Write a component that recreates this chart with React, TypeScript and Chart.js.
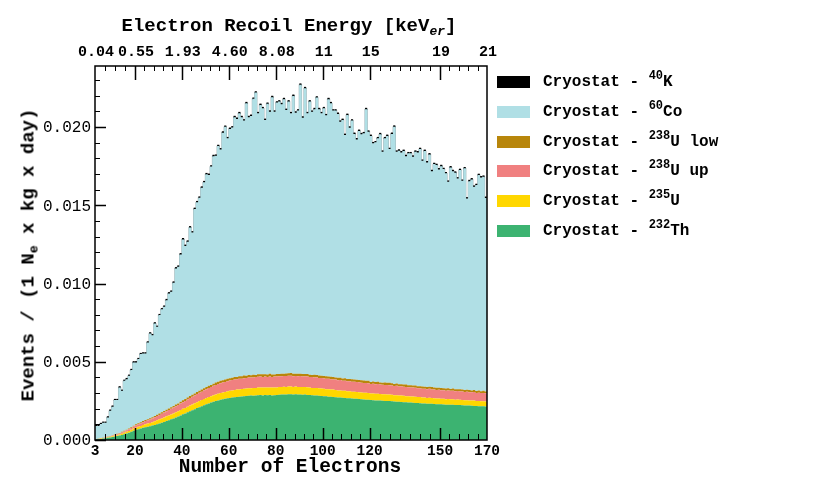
import React, { useEffect, useRef } from 'react';
import { Chart, registerables } from 'chart.js';

Chart.register(...registerables);

// one bin per electron, from 3 to 170
const BIN_START = 3;
const BIN_END = 170;

const th232 = [
  0.00004, 0.00005, 0.00007, 0.00009, 0.00011, 0.00014, 0.00016, 0.00019, 0.00022, 0.00025,
  0.00028, 0.00032, 0.00037, 0.00042, 0.00047, 0.00053, 0.00059, 0.00064, 0.00069, 0.00073,
  0.00078, 0.00082, 0.00085, 0.00088, 0.00092, 0.00096, 0.00100, 0.00105, 0.00110, 0.00115,
  0.00121, 0.00126, 0.00132, 0.00138, 0.00144, 0.00150, 0.00157, 0.00164, 0.00170, 0.00177,
  0.00184, 0.00190, 0.00197, 0.00204, 0.00210, 0.00216, 0.00222, 0.00228, 0.00234, 0.00239,
  0.00244, 0.00249, 0.00253, 0.00257, 0.00260, 0.00263, 0.00266, 0.00269, 0.00271, 0.00273,
  0.00275, 0.00277, 0.00278, 0.00280, 0.00281, 0.00282, 0.00284, 0.00283, 0.00285, 0.00286,
  0.00287, 0.00285, 0.00288, 0.00286, 0.00287, 0.00285, 0.00286, 0.00288, 0.00289, 0.00290,
  0.00291, 0.00290, 0.00292, 0.00293, 0.00291, 0.00292, 0.00290, 0.00291, 0.00289, 0.00290,
  0.00288, 0.00287, 0.00286, 0.00284, 0.00285, 0.00283, 0.00281, 0.00280, 0.00279, 0.00277,
  0.00276, 0.00275, 0.00273, 0.00272, 0.00271, 0.00270, 0.00268, 0.00267, 0.00266, 0.00265,
  0.00264, 0.00263, 0.00262, 0.00260, 0.00259, 0.00258, 0.00257, 0.00255, 0.00254, 0.00253,
  0.00253, 0.00252, 0.00251, 0.00250, 0.00250, 0.00249, 0.00248, 0.00246, 0.00245, 0.00244,
  0.00243, 0.00242, 0.00241, 0.00240, 0.00239, 0.00238, 0.00237, 0.00236, 0.00235, 0.00234,
  0.00233, 0.00232, 0.00232, 0.00231, 0.00230, 0.00229, 0.00228, 0.00228, 0.00227, 0.00226,
  0.00226, 0.00225, 0.00225, 0.00224, 0.00224, 0.00223, 0.00222, 0.00221, 0.00220, 0.00220,
  0.00219, 0.00218, 0.00217, 0.00216, 0.00216, 0.00215, 0.00214,
];

const u235 = [
  0.00001, 0.00001, 0.00002, 0.00002, 0.00003, 0.00003, 0.00004, 0.00005, 0.00005, 0.00006,
  0.00007, 0.00008, 0.00009, 0.00010, 0.00011, 0.00012, 0.00014, 0.00015, 0.00016, 0.00017,
  0.00018, 0.00019, 0.00020, 0.00021, 0.00022, 0.00024, 0.00026, 0.00027, 0.00028, 0.00029,
  0.00030, 0.00031, 0.00031, 0.00032, 0.00033, 0.00033, 0.00034, 0.00035, 0.00035, 0.00036,
  0.00037, 0.00037, 0.00038, 0.00038, 0.00039, 0.00039, 0.00040, 0.00040, 0.00041, 0.00041,
  0.00042, 0.00042, 0.00043, 0.00043, 0.00044, 0.00044, 0.00045, 0.00045, 0.00046, 0.00046,
  0.00047, 0.00046, 0.00048, 0.00047, 0.00048, 0.00049, 0.00047, 0.00049, 0.00048, 0.00050,
  0.00049, 0.00050, 0.00048, 0.00050, 0.00049, 0.00050, 0.00049, 0.00048, 0.00050, 0.00049,
  0.00050, 0.00049, 0.00050, 0.00049, 0.00048, 0.00050, 0.00049, 0.00048, 0.00049, 0.00048,
  0.00049, 0.00048, 0.00047, 0.00049, 0.00048, 0.00047, 0.00048, 0.00047, 0.00046, 0.00047,
  0.00046, 0.00047, 0.00046, 0.00045, 0.00046, 0.00045, 0.00046, 0.00044, 0.00045, 0.00044,
  0.00045, 0.00044, 0.00043, 0.00044, 0.00043, 0.00044, 0.00043, 0.00042, 0.00043, 0.00042,
  0.00043, 0.00042, 0.00041, 0.00042, 0.00041, 0.00042, 0.00041, 0.00040, 0.00041, 0.00040,
  0.00041, 0.00040, 0.00039, 0.00040, 0.00039, 0.00040, 0.00039, 0.00038, 0.00039, 0.00038,
  0.00038, 0.00037, 0.00038, 0.00037, 0.00037, 0.00036, 0.00037, 0.00036, 0.00036, 0.00035,
  0.00036, 0.00035, 0.00035, 0.00034, 0.00035, 0.00034, 0.00034, 0.00033, 0.00034, 0.00033,
  0.00033, 0.00034, 0.00032, 0.00033, 0.00032, 0.00033, 0.00032,
];

const u238Up = [
  0.00001, 0.00001, 0.00002, 0.00002, 0.00003, 0.00003, 0.00004, 0.00004, 0.00005, 0.00006,
  0.00007, 0.00008, 0.00009, 0.00010, 0.00011, 0.00012, 0.00013, 0.00015, 0.00016, 0.00017,
  0.00018, 0.00020, 0.00021, 0.00022, 0.00024, 0.00025, 0.00027, 0.00028, 0.00030, 0.00031,
  0.00033, 0.00034, 0.00036, 0.00037, 0.00039, 0.00040, 0.00042, 0.00043, 0.00045, 0.00046,
  0.00048, 0.00049, 0.00050, 0.00052, 0.00053, 0.00054, 0.00056, 0.00057, 0.00058, 0.00059,
  0.00060, 0.00061, 0.00062, 0.00063, 0.00064, 0.00064, 0.00065, 0.00066, 0.00066, 0.00067,
  0.00067, 0.00068, 0.00066, 0.00068, 0.00067, 0.00069, 0.00068, 0.00067, 0.00069, 0.00068,
  0.00069, 0.00068, 0.00070, 0.00067, 0.00069, 0.00068, 0.00070, 0.00069, 0.00068, 0.00069,
  0.00068, 0.00070, 0.00069, 0.00068, 0.00069, 0.00067, 0.00068, 0.00070, 0.00068, 0.00069,
  0.00068, 0.00067, 0.00069, 0.00067, 0.00068, 0.00066, 0.00068, 0.00067, 0.00066, 0.00067,
  0.00066, 0.00065, 0.00067, 0.00065, 0.00066, 0.00064, 0.00065, 0.00064, 0.00065, 0.00063,
  0.00064, 0.00063, 0.00064, 0.00062, 0.00063, 0.00062, 0.00063, 0.00061, 0.00062, 0.00061,
  0.00062, 0.00060, 0.00061, 0.00060, 0.00061, 0.00059, 0.00060, 0.00059, 0.00060, 0.00058,
  0.00059, 0.00058, 0.00059, 0.00057, 0.00058, 0.00057, 0.00058, 0.00056, 0.00057, 0.00056,
  0.00057, 0.00056, 0.00057, 0.00055, 0.00056, 0.00055, 0.00056, 0.00054, 0.00055, 0.00054,
  0.00055, 0.00054, 0.00055, 0.00053, 0.00054, 0.00053, 0.00054, 0.00053, 0.00054, 0.00052,
  0.00053, 0.00054, 0.00052, 0.00053, 0.00052, 0.00053, 0.00052,
];

const u238Low = [
  0.00001, 0.00001, 0.00001, 0.00001, 0.00002, 0.00002, 0.00002, 0.00002, 0.00003, 0.00003,
  0.00003, 0.00004, 0.00004, 0.00004, 0.00005, 0.00005, 0.00005, 0.00006, 0.00006, 0.00006,
  0.00007, 0.00007, 0.00007, 0.00008, 0.00008, 0.00008, 0.00009, 0.00009, 0.00009, 0.00010,
  0.00010, 0.00010, 0.00011, 0.00011, 0.00011, 0.00011, 0.00012, 0.00012, 0.00012, 0.00012,
  0.00012, 0.00013, 0.00012, 0.00013, 0.00013, 0.00014, 0.00013, 0.00014, 0.00014, 0.00013,
  0.00014, 0.00015, 0.00014, 0.00015, 0.00014, 0.00015, 0.00016, 0.00014, 0.00015, 0.00016,
  0.00014, 0.00016, 0.00015, 0.00017, 0.00014, 0.00016, 0.00015, 0.00018, 0.00014, 0.00016,
  0.00015, 0.00017, 0.00014, 0.00016, 0.00018, 0.00015, 0.00014, 0.00017, 0.00015, 0.00016,
  0.00014, 0.00016, 0.00015, 0.00018, 0.00015, 0.00014, 0.00017, 0.00015, 0.00016, 0.00014,
  0.00016, 0.00015, 0.00014, 0.00017, 0.00015, 0.00016, 0.00014, 0.00015, 0.00017, 0.00014,
  0.00016, 0.00015, 0.00014, 0.00016, 0.00015, 0.00014, 0.00016, 0.00015, 0.00014, 0.00016,
  0.00014, 0.00015, 0.00014, 0.00016, 0.00015, 0.00014, 0.00015, 0.00013, 0.00015, 0.00014,
  0.00015, 0.00014, 0.00013, 0.00015, 0.00014, 0.00016, 0.00014, 0.00013, 0.00015, 0.00014,
  0.00013, 0.00014, 0.00015, 0.00013, 0.00014, 0.00013, 0.00015, 0.00014, 0.00013, 0.00014,
  0.00013, 0.00014, 0.00013, 0.00015, 0.00013, 0.00014, 0.00013, 0.00014, 0.00012, 0.00014,
  0.00013, 0.00012, 0.00014, 0.00013, 0.00012, 0.00014, 0.00013, 0.00012, 0.00013, 0.00014,
  0.00012, 0.00013, 0.00012, 0.00014, 0.00012, 0.00013, 0.00012,
];

const co60 = [
  0.00082, 0.00081, 0.00090, 0.00096, 0.00091, 0.00122, 0.00161, 0.00183, 0.00220, 0.00215,
  0.00291, 0.00262, 0.00319, 0.00323, 0.00336, 0.00365, 0.00405, 0.00396, 0.00410, 0.00436,
  0.00432, 0.00425, 0.00490, 0.00542, 0.00524, 0.00592, 0.00561, 0.00629, 0.00658, 0.00667,
  0.00699, 0.00735, 0.00737, 0.00787, 0.00869, 0.00873, 0.00941, 0.01028, 0.00978, 0.00996,
  0.01077, 0.01037, 0.01179, 0.01212, 0.01233, 0.01289, 0.01316, 0.01359, 0.01347, 0.01395,
  0.01454, 0.01449, 0.01506, 0.01479, 0.01582, 0.01615, 0.01536, 0.01594, 0.01599, 0.01661,
  0.01649, 0.01681, 0.01656, 0.01629, 0.01742, 0.01647, 0.01657, 0.01763, 0.01804, 0.01668,
  0.01721, 0.01700, 0.01625, 0.01729, 0.01675, 0.01773, 0.01679, 0.01734, 0.01741, 0.01722,
  0.01755, 0.01684, 0.01737, 0.01660, 0.01776, 0.01669, 0.01681, 0.01846, 0.01638, 0.01827,
  0.01667, 0.01746, 0.01681, 0.01697, 0.01772, 0.01702, 0.01677, 0.01711, 0.01667, 0.01773,
  0.01748, 0.01703, 0.01705, 0.01686, 0.01636, 0.01652, 0.01554, 0.01687, 0.01606, 0.01653,
  0.01569, 0.01536, 0.01592, 0.01572, 0.01580, 0.01736, 0.01592, 0.01572, 0.01522, 0.01532,
  0.01555, 0.01586, 0.01476, 0.01561, 0.01577, 0.01493, 0.01593, 0.01644, 0.01481, 0.01493,
  0.01482, 0.01493, 0.01460, 0.01482, 0.01482, 0.01462, 0.01493, 0.01494, 0.01515, 0.01442,
  0.01506, 0.01435, 0.01485, 0.01380, 0.01427, 0.01423, 0.01395, 0.01418, 0.01401, 0.01375,
  0.01320, 0.01416, 0.01389, 0.01384, 0.01346, 0.01401, 0.01333, 0.01417, 0.01222, 0.01335,
  0.01348, 0.01299, 0.01316, 0.01377, 0.01366, 0.01368, 0.01237,
];

const k40 = [
  0.00001, 0.00001, 0.00001, 0.00001, 0.00001, 0.00001, 0.00001, 0.00001, 0.00001, 0.00001,
  0.00001, 0.00001, 0.00001, 0.00001, 0.00001, 0.00001, 0.00001, 0.00001, 0.00001, 0.00001,
  0.00001, 0.00001, 0.00001, 0.00001, 0.00001, 0.00001, 0.00001, 0.00001, 0.00001, 0.00001,
  0.00002, 0.00002, 0.00002, 0.00002, 0.00002, 0.00002, 0.00002, 0.00002, 0.00002, 0.00002,
  0.00002, 0.00002, 0.00002, 0.00002, 0.00002, 0.00002, 0.00002, 0.00002, 0.00002, 0.00002,
  0.00002, 0.00002, 0.00002, 0.00002, 0.00002, 0.00002, 0.00002, 0.00002, 0.00002, 0.00002,
  0.00002, 0.00002, 0.00002, 0.00002, 0.00002, 0.00002, 0.00002, 0.00002, 0.00002, 0.00002,
  0.00002, 0.00002, 0.00002, 0.00002, 0.00002, 0.00002, 0.00002, 0.00002, 0.00002, 0.00002,
  0.00002, 0.00002, 0.00002, 0.00002, 0.00002, 0.00002, 0.00002, 0.00002, 0.00002, 0.00002,
  0.00002, 0.00002, 0.00002, 0.00002, 0.00002, 0.00002, 0.00002, 0.00002, 0.00002, 0.00002,
  0.00002, 0.00002, 0.00002, 0.00002, 0.00002, 0.00002, 0.00002, 0.00002, 0.00002, 0.00002,
  0.00002, 0.00002, 0.00002, 0.00002, 0.00002, 0.00002, 0.00002, 0.00002, 0.00002, 0.00002,
  0.00002, 0.00002, 0.00002, 0.00002, 0.00002, 0.00002, 0.00002, 0.00002, 0.00002, 0.00002,
  0.00002, 0.00002, 0.00002, 0.00002, 0.00002, 0.00002, 0.00002, 0.00002, 0.00002, 0.00002,
  0.00002, 0.00002, 0.00002, 0.00002, 0.00002, 0.00002, 0.00002, 0.00002, 0.00002, 0.00002,
  0.00002, 0.00002, 0.00002, 0.00002, 0.00002, 0.00002, 0.00002, 0.00002, 0.00002, 0.00002,
  0.00002, 0.00002, 0.00002, 0.00002, 0.00002, 0.00002, 0.00002,
];

// axis labels
const electronTicks = [3, 20, 40, 60, 80, 100, 120, 150, 170];
const energyLabels = ['0.04', '0.55', '1.93', '4.60', '8.08', '11', '15', '19', '21'];
const yTicks = [0, 0.005, 0.01, 0.015, 0.02];
const Y_MAX = 0.0239;

const FONT = '"Liberation Mono", "DejaVu Sans Mono", monospace';

// stacking order, bottom first
const layers = [
  { label: 'Th232', values: th232, color: '#3cb371' },
  { label: 'U235', values: u235, color: '#ffd700' },
  { label: 'U238 up', values: u238Up, color: '#f08080' },
  { label: 'U238 low', values: u238Low, color: '#b8860b' },
  { label: 'Co60', values: co60, color: '#b0dfe5' },
  { label: 'K40', values: k40, color: '#000000' },
];

const legendEntries = [
  { iso: '40', el: 'K', tail: '', color: '#000000' },
  { iso: '60', el: 'Co', tail: '', color: '#b0dfe5' },
  { iso: '238', el: 'U', tail: ' low', color: '#b8860b' },
  { iso: '238', el: 'U', tail: ' up', color: '#f08080' },
  { iso: '235', el: 'U', tail: '', color: '#ffd700' },
  { iso: '232', el: 'Th', tail: '', color: '#3cb371' },
];

// bin centres, padded with the two outer edges so 'middle' steps cover the full range
const toSteps = (values: number[]) => [
  { x: BIN_START, y: values[0] },
  ...values.map((v, i) => ({ x: BIN_START + i + 0.5, y: v })),
  { x: BIN_END, y: values[values.length - 1] },
];

const minorBetween = (a: number, b: number, step: number) => {
  const n = Math.max(1, Math.round((b - a) / step));
  const out: number[] = [];
  for (let j = 1; j < n; j++) out.push(a + ((b - a) * j) / n);
  return out;
};

const rootAxes = {
  id: 'rootAxes',
  afterDraw(chart: any) {
    const { ctx, chartArea: a, scales } = chart;
    const x = scales.x;
    const y = scales.y;
    ctx.save();
    ctx.strokeStyle = '#000';
    ctx.fillStyle = '#000';

    // minor ticks
    ctx.lineWidth = 1;
    ctx.beginPath();
    for (let i = 0; i < electronTicks.length - 1; i++) {
      minorBetween(electronTicks[i], electronTicks[i + 1], 4.2).forEach((v) => {
        const px = Math.round(x.getPixelForValue(v)) + 0.5;
        ctx.moveTo(px, a.bottom);
        ctx.lineTo(px, a.bottom - 6);
        ctx.moveTo(px, a.top);
        ctx.lineTo(px, a.top + 5);
      });
    }
    for (let v = 0.001; v < Y_MAX; v += 0.001) {
      const py = Math.round(y.getPixelForValue(v)) + 0.5;
      ctx.moveTo(a.left, py);
      ctx.lineTo(a.left + 5, py);
    }
    ctx.stroke();

    // major ticks
    ctx.lineWidth = 1.5;
    ctx.beginPath();
    electronTicks.slice(1, -1).forEach((v) => {
      const px = Math.round(x.getPixelForValue(v)) + 0.5;
      ctx.moveTo(px, a.bottom);
      ctx.lineTo(px, a.bottom - 12);
      ctx.moveTo(px, a.top);
      ctx.lineTo(px, a.top + 14);
    });
    yTicks.forEach((v) => {
      const py = Math.round(y.getPixelForValue(v)) + 0.5;
      ctx.moveTo(a.left, py);
      ctx.lineTo(a.left + 11, py);
    });
    ctx.stroke();

    // frame
    ctx.lineWidth = 1.5;
    ctx.strokeRect(a.left, a.top, a.right - a.left, a.bottom - a.top);

    // tick labels
    ctx.font = `16px ${FONT}`;
    ctx.textAlign = 'right';
    ctx.textBaseline = 'middle';
    yTicks.forEach((v) => ctx.fillText(v.toFixed(3), a.left - 4, y.getPixelForValue(v) + 1));

    ctx.font = `bold 14.5px ${FONT}`;
    ctx.textAlign = 'center';
    ctx.textBaseline = 'top';
    electronTicks.forEach((v) => ctx.fillText(String(v), x.getPixelForValue(v), a.bottom + 4));

    ctx.font = `bold 15px ${FONT}`;
    ctx.textBaseline = 'bottom';
    electronTicks.forEach((v, i) => ctx.fillText(energyLabels[i], x.getPixelForValue(v) + 1, a.top - 6));
    ctx.restore();
  },
};

const App: React.FC = () => {
  const canvasRef = useRef<HTMLCanvasElement>(null);

  useEffect(() => {
    if (!canvasRef.current) return;
    const chart = new Chart(canvasRef.current, {
      type: 'line',
      data: {
        datasets: layers.map((layer, i) => {
          const top = layer.label === 'K40';
          return {
            label: layer.label,
            data: toSteps(layer.values),
            backgroundColor: layer.color,
            borderColor: top ? 'rgba(120,150,156,0.9)' : 'rgba(0,0,0,0)',
            borderWidth: top ? 0.8 : 0,
            fill: i === 0 ? 'origin' : '-1',
            stepped: 'middle' as const,
            tension: 0,
            pointStyle: 'rect' as const,
            pointBackgroundColor: '#000',
            pointBorderWidth: 0,
            // markers on the bin centres of the stack top, none on the padding edges
            pointRadius: (c: any) => (top && c.dataIndex > 0 && c.dataIndex <= layer.values.length ? 1.5 : 0),
          };
        }),
      },
      options: {
        animation: false,
        responsive: false,
        events: [],
        layout: { padding: { left: 95, right: 343, top: 66, bottom: 58 } },
        plugins: { legend: { display: false }, tooltip: { enabled: false } },
        scales: {
          x: { type: 'linear', min: BIN_START, max: BIN_END, display: false },
          y: { stacked: true, min: 0, max: Y_MAX, display: false },
        },
      },
      plugins: [rootAxes],
    });
    return () => chart.destroy();
  }, []);

  const text: React.CSSProperties = {
    position: 'absolute',
    fontFamily: FONT,
    fontWeight: 'bold',
    whiteSpace: 'pre',
    color: '#000',
    lineHeight: 1,
  };
  const sup: React.CSSProperties = { fontSize: 12, position: 'relative', top: -7 };

  return (
    <div style={{ position: 'fixed', left: 0, top: 0, width: 830, height: 498, background: '#fff' }}>
      <canvas ref={canvasRef} width={830} height={498} style={{ position: 'absolute', left: 0, top: 0 }} />
      <div style={{ ...text, fontSize: 19, left: 289, top: 26, transform: 'translate(-50%, -50%)' }}>
        Electron Recoil Energy [keV
        <span style={{ fontSize: 13, fontStyle: 'italic', position: 'relative', top: 4 }}>er</span>]
      </div>
      <div style={{ ...text, fontSize: 19.5, left: 290, top: 468, transform: 'translate(-50%, -50%)' }}>
        Number of Electrons
      </div>
      <div
        style={{
          ...text,
          fontSize: 19,
          left: 29,
          top: 255,
          transform: 'translate(-50%, -50%) rotate(-90deg)',
        }}
      >
        Events / (1 N<span style={{ fontSize: 13, position: 'relative', top: 4 }}>e</span> x kg x day)
      </div>
      {legendEntries.map((e, i) => (
        <div key={i} style={{ position: 'absolute', left: 497, top: 82 + i * 29.8, height: 0 }}>
          <div style={{ position: 'absolute', left: 0, top: -6, width: 33, height: 12, background: e.color }} />
          <div style={{ ...text, fontSize: 16, left: 46, top: -8 }}>
            {'Cryostat - '}
            <span style={sup}>{e.iso}</span>
            {e.el + e.tail}
          </div>
        </div>
      ))}
    </div>
  );
};

export default App;
